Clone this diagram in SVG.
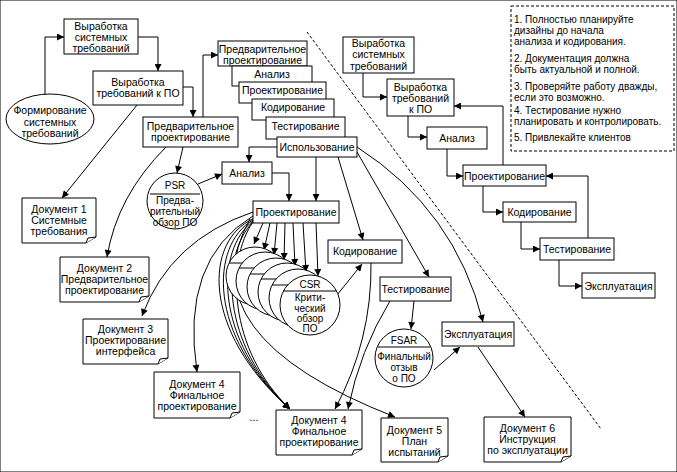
<svg xmlns="http://www.w3.org/2000/svg" width="677" height="472" viewBox="0 0 677 472">
<defs>
<marker id="a" viewBox="0 0 10 10" refX="10" refY="5" markerWidth="8" markerHeight="7" orient="auto" markerUnits="userSpaceOnUse"><path d="M0,0 L10,5 L0,10 z" fill="#000"/></marker>
</defs>
<style>
rect,ellipse,circle,.doc{fill:#fff;stroke:#000;stroke-width:1}
text{font-family:"Liberation Sans",Arial,sans-serif;font-size:10.5px;fill:#000;text-anchor:middle}
.n text{font-size:10px;text-anchor:start}
.c text{font-size:10px}
#conn path{fill:none;stroke:#000;stroke-width:1;marker-end:url(#a)}
#conn .p{marker-end:none}
.fold{fill:#fff;stroke:#000;stroke-width:1}
</style>
<rect width="677" height="472" fill="#fff" stroke="none"/>
<g id="conn">
<path d="M45,95 V37 H64"/>
<path d="M138,37 H158 V71"/>
<path d="M183,87 H193 V117"/>
<path d="M203,117 V55 H218"/>
<path d="M137,105 L62,198"/>
<path d="M166,147 Q117,196 107,257"/>
<path d="M183,147 L177,173"/>
<path d="M198,184 L222,174"/>
<path d="M277,147 H249 V162"/>
<path d="M272,173 H289 V201"/>
<path d="M316,157 V201"/>
<path d="M338,157 L363,240"/>
<path d="M357,152 L429,277"/>
<path d="M357,147 Q455,210 483,322"/>
<path d="M337,295 L362,264"/>
<path d="M414,301 L411,329"/>
<path d="M390,301 Q360,350 348,409"/>
<path d="M371,263 Q372,340 335,409"/>
<path d="M434,370 L460,347"/>
<path d="M478,347 L525,417"/>
<path d="M253,212 Q170,240 142,316"/>
<path d="M253,216 Q180,260 197,372"/>
<path d="M263,223 L254,244"/>
<path d="M270,223 L264,250"/>
<path d="M277,223 L274,255"/>
<path d="M285,223 L284,260"/>
<path d="M293,223 L295,266"/>
<path d="M303,223 L306,272"/>
<path d="M316,223 L318,276"/>
<path d="M253,219 C205,240 200,330 290,409"/>
<path d="M253,220 C210,245 207,335 290,409"/>
<path d="M253,221 C215,250 214,340 290,409"/>
<path d="M253,222 C220,255 221,345 290,409"/>
<path d="M253,222 C226,260 228,350 290,409"/>
<path d="M250,219 Q185,335 395,417"/>
<path d="M363,73 V97 H387"/>
<path d="M408,116 V137 H427"/>
<path d="M447,149 V176 H463"/>
<path d="M483,186 V212 H503"/>
<path d="M521,222 V249 H540"/>
<path d="M559,260 V286 H582"/>
<path d="M503,165 V106 H454"/>
<path d="M588,238 V176 H546"/>
<path class="p" d="M307,32 L601,429" stroke-dasharray="3,2"/>
</g>
<g id="n_form"><ellipse cx="50" cy="119" rx="44" ry="25"/><text x="50" y="114">Формирование</text><text x="50" y="126">системных</text><text x="50" y="137">требований</text></g>
<g id="n_sys"><rect x="64" y="19" width="74" height="35"/><text x="101" y="30">Выработка</text><text x="101" y="41">системных</text><text x="101" y="52">требований</text></g>
<g id="n_po"><rect x="93" y="71" width="90" height="34"/><text x="138" y="86">Выработка</text><text x="138" y="97">требований к ПО</text></g>
<g id="n_pre"><rect x="143" y="117" width="95" height="30"/><text x="190.5" y="130">Предварительное</text><text x="190.5" y="141">проектирование</text></g>
<g id="n_s1"><rect x="218" y="41" width="89" height="25"/><text x="262.5" y="53">Предварительное</text><text x="262.5" y="64">проектирование</text></g>
<g id="n_s2"><rect x="232" y="66" width="80" height="20"/><text x="272" y="78">Анализ</text></g>
<g id="n_s3"><rect x="239" y="82" width="87" height="21"/><text x="282.5" y="94">Проектирование</text></g>
<g id="n_s4"><rect x="252" y="99" width="82" height="21"/><text x="293" y="111">Кодирование</text></g>
<g id="n_s5"><rect x="266" y="117" width="79" height="22"/><text x="305.5" y="130">Тестирование</text></g>
<g id="n_s6"><rect x="277" y="137" width="80" height="20"/><text x="317" y="151">Использование</text></g>
<g id="n_psr" class="c"><circle cx="175" cy="201" r="28"/><line x1="150" y1="194" x2="200" y2="194" stroke="#000"/><text x="175" y="189">PSR</text><text x="175" y="204">Предва-</text><text x="175" y="215">рительный</text><text x="175" y="226">обзор ПО</text></g>
<g id="n_an"><rect x="222" y="162" width="50" height="22"/><text x="247" y="177">Анализ</text></g>
<g id="n_pr"><rect x="253" y="201" width="86" height="22"/><text x="296" y="216">Проектирование</text></g>
<g id="n_csr" class="c">
<circle cx="255" cy="276" r="29"/><line x1="229" y1="263" x2="281" y2="263" stroke="#000"/>
<circle cx="265" cy="281" r="29"/><line x1="239" y1="268" x2="291" y2="268" stroke="#000"/>
<circle cx="276" cy="287" r="29"/><line x1="250" y1="274" x2="302" y2="274" stroke="#000"/>
<circle cx="287" cy="292" r="29"/><line x1="261" y1="279" x2="313" y2="279" stroke="#000"/>
<circle cx="298" cy="298" r="29"/><line x1="272" y1="285" x2="324" y2="285" stroke="#000"/>
<circle cx="310" cy="305" r="30"/><line x1="283" y1="291" x2="337" y2="291" stroke="#000"/>
<text x="310" y="288">CSR</text><text x="310" y="301">Крити-</text><text x="310" y="311.5">ческий</text><text x="310" y="322">обзор</text><text x="310" y="332">ПО</text>
</g>
<g id="n_kod"><rect x="328" y="240" width="74" height="23"/><text x="365" y="255">Кодирование</text></g>
<g id="n_test"><rect x="380" y="277" width="71" height="24"/><text x="415.5" y="293">Тестирование</text></g>
<g id="n_fsar" class="c"><circle cx="404" cy="358" r="29"/><line x1="378" y1="347" x2="430" y2="347" stroke="#000"/><text x="404" y="344">FSAR</text><text x="404" y="360">Финальный</text><text x="404" y="371">отзыв</text><text x="404" y="382">о ПО</text></g>
<g id="n_exp"><rect x="442" y="322" width="72" height="24"/><text x="478" y="338">Эксплуатация</text></g>
<g id="d1"><path class="doc" d="M22,198 H96 V237 L86,243 H22 Z"/><path class="fold" d="M86,243 L88,238 L96,237"/><text x="59" y="213">Документ 1</text><text x="59" y="224">Системные</text><text x="59" y="235">требования</text></g>
<g id="d2"><path class="doc" d="M60,257 H149 V296 L139,302 H60 Z"/><path class="fold" d="M139,302 L141,297 L149,296"/><text x="104.5" y="272">Документ 2</text><text x="104.5" y="283">Предварительное</text><text x="104.5" y="294">проектирование</text></g>
<g id="d3"><path class="doc" d="M83,319 H168 V358 L158,364 H83 Z"/><path class="fold" d="M158,364 L160,359 L168,358"/><text x="125.5" y="333">Документ 3</text><text x="125.5" y="344">Проектирование</text><text x="125.5" y="355">интерфейса</text></g>
<g id="d4a"><path class="doc" d="M154,372 H240 V412 L230,418 H154 Z"/><path class="fold" d="M230,418 L232,413 L240,412"/><text x="197" y="388">Документ 4</text><text x="197" y="399">Финальное</text><text x="197" y="410">проектирование</text></g>
<text x="254" y="421">...</text>
<g id="d4b"><path class="doc" d="M276,410 H362 V449 L352,455 H276 Z"/><path class="fold" d="M352,455 L354,450 L362,449"/><text x="319" y="424">Документ 4</text><text x="319" y="435">Финальное</text><text x="319" y="446">проектирование</text></g>
<g id="d5"><path class="doc" d="M381,418 H448 V456 L438,462 H381 Z"/><path class="fold" d="M438,462 L440,457 L448,456"/><text x="414.5" y="434">Документ 5</text><text x="414.5" y="445">План</text><text x="414.5" y="456">испытаний</text></g>
<g id="d6"><path class="doc" d="M484,417 H571 V456 L561,462 H484 Z"/><path class="fold" d="M561,462 L563,457 L571,456"/><text x="527.5" y="432">Документ 6</text><text x="527.5" y="443">Инструкция</text><text x="527.5" y="454">по эксплуатации</text></g>
<g id="w_sys"><rect x="343" y="37" width="71" height="36"/><text x="378.5" y="47">Выработка</text><text x="378.5" y="58">системных</text><text x="378.5" y="70">требований</text></g>
<g id="w_po"><rect x="387" y="79" width="67" height="37"/><text x="420.5" y="91">Выработка</text><text x="420.5" y="102">требований</text><text x="420.5" y="113">к ПО</text></g>
<g id="w_an"><rect x="427" y="127" width="60" height="22"/><text x="457" y="142">Анализ</text></g>
<g id="w_pr"><rect x="463" y="165" width="83" height="21"/><text x="504.5" y="180">Проектирование</text></g>
<g id="w_kod"><rect x="503" y="202" width="73" height="20"/><text x="539.5" y="216">Кодирование</text></g>
<g id="w_test"><rect x="540" y="238" width="74" height="22"/><text x="577" y="253">Тестирование</text></g>
<g id="w_exp"><rect x="582" y="273" width="73" height="25"/><text x="618.5" y="290">Эксплуатация</text></g>
<g id="notes" class="n"><rect x="511" y="6" width="163" height="145" stroke-dasharray="3,2"/>
<text x="514" y="22.5">1. Полностью планируйте</text><text x="514" y="34">дизайны до начала</text><text x="514" y="45">анализа и кодирования.</text>
<text x="514" y="62">2. Документация должна</text><text x="514" y="73">быть актуальной и полной.</text>
<text x="514" y="90">3. Проверяйте работу дважды,</text><text x="514" y="101">если это возможно.</text>
<text x="514" y="114">4. Тестирование нужно</text><text x="514" y="125">планировать и контролировать.</text>
<text x="514" y="141">5. Привлекайте клиентов</text>
</g>
</svg>
